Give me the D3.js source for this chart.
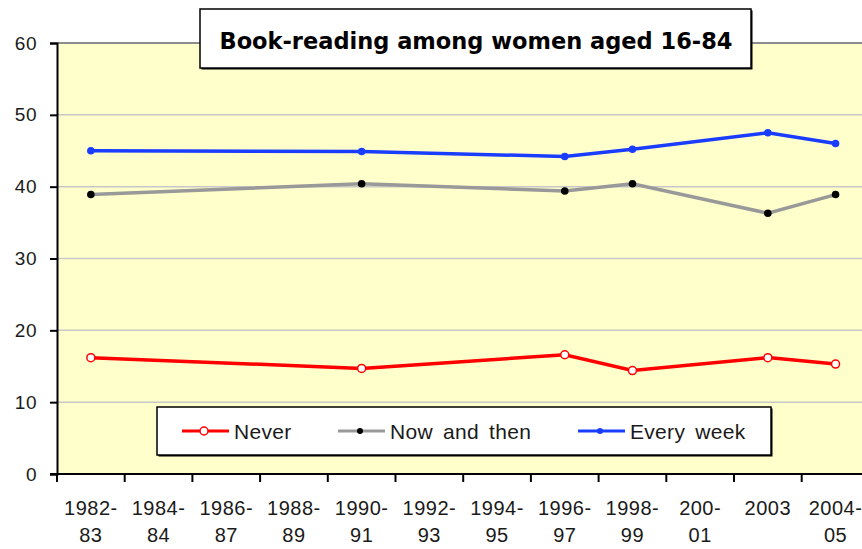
<!DOCTYPE html>
<html>
<head>
<meta charset="utf-8">
<script src="https://cdn.jsdelivr.net/npm/d3@7"></script>
<style>
  html, body { margin: 0; padding: 0; background: #fff; }
  svg { display: block; }
</style>
</head>
<body>
<svg id="chart" width="862" height="549"></svg>
<script>
'use strict';

// data
const categories = [
  ['1982-', '83'], ['1984-', '84'], ['1986-', '87'], ['1988-', '89'],
  ['1990-', '91'], ['1992-', '93'], ['1994-', '95'], ['1996-', '97'],
  ['1998-', '99'], ['200-', '01'], ['2003', ''], ['2004-', '05']
];
const never = [16.2, null, null, null, 14.7, null, null, 16.6, 14.4, null, 16.2, 15.3];
const nowAndThen = [38.9, null, null, null, 40.4, null, null, 39.4, 40.4, null, 36.3, 38.9];
const everyWeek = [45.0, null, null, null, 44.9, null, null, 44.2, 45.2, null, 47.5, 46.0];
const yTicks = [0, 10, 20, 30, 40, 50, 60];
const title = 'Book-reading among women aged 16-84';

const series = [
  { key: 'Never', values: never, line: '#ff0000', marker: 'open' },
  { key: 'Now and then', values: nowAndThen, line: '#999999', marker: '#000000' },
  { key: 'Every week', values: everyWeek, line: '#1a3cff', marker: '#1a3cff' }
];

const svg = d3.select('#chart');
const margin = { top: 43, left: 57, bottom: 75 };
const band = 67.7;
const width = band * categories.length;
const height = 549 - margin.top - margin.bottom;
const font = '"Liberation Sans", Arial, sans-serif';

const x = d3.scaleBand()
  .domain(d3.range(categories.length))
  .range([0, width]);

const y = d3.scaleLinear()
  .domain([0, 60])
  .range([height, 0]);

const g = svg.append('g')
  .attr('transform', 'translate(' + margin.left + ',' + margin.top + ')');

// plot area
g.append('rect')
  .attr('width', width)
  .attr('height', height)
  .attr('fill', '#ffffcc');

// gridlines
g.append('g')
  .selectAll('line')
  .data(yTicks.filter((d) => d > 0))
  .enter()
  .append('line')
  .attr('x1', 0)
  .attr('x2', width)
  .attr('y1', (d) => y(d))
  .attr('y2', (d) => y(d))
  .attr('stroke', (d) => (d === 60 ? '#8c8c8c' : '#c8c8c8'))
  .attr('stroke-width', (d) => (d === 60 ? 2 : 1.5));

// y axis
g.append('g')
  .call(d3.axisLeft(y).tickValues(yTicks).tickSize(7).tickPadding(13))
  .call((a) => {
    a.select('.domain').attr('stroke', '#000').attr('stroke-width', 2);
    a.selectAll('line').attr('stroke', '#000').attr('stroke-width', 2);
    a.selectAll('text')
      .attr('fill', '#1a1a1a')
      .style('font-family', font)
      .style('font-size', '19px')
      .style('letter-spacing', '0.5px');
  });

// x axis
const xAxis = g.append('g')
  .attr('transform', 'translate(0,' + height + ')');

xAxis.append('line')
  .attr('x1', -7)
  .attr('x2', width)
  .attr('stroke', '#000')
  .attr('stroke-width', 2);

xAxis.selectAll('.tick')
  .data(d3.range(categories.length + 1))
  .enter()
  .append('line')
  .attr('class', 'tick')
  .attr('x1', (d) => d * x.step())
  .attr('x2', (d) => d * x.step())
  .attr('y1', 0)
  .attr('y2', 8)
  .attr('stroke', '#000')
  .attr('stroke-width', 2);

const xLabels = xAxis.selectAll('.xlabel')
  .data(categories)
  .enter()
  .append('text')
  .attr('class', 'xlabel')
  .attr('text-anchor', 'middle')
  .attr('fill', '#1a1a1a')
  .style('font-family', font)
  .style('font-size', '20px')
  .style('letter-spacing', '0.5px');

xLabels.append('tspan')
  .attr('x', (d, i) => x(i) + x.bandwidth() / 2)
  .attr('y', 41)
  .text((d) => d[0]);

xLabels.append('tspan')
  .attr('x', (d, i) => x(i) + x.bandwidth() / 2)
  .attr('y', 68)
  .text((d) => d[1]);

// lines, skipping empty years
const line = d3.line()
  .x((d) => x(d.i) + x.bandwidth() / 2)
  .y((d) => y(d.v));

series.forEach(function(s) {
  const pts = s.values
    .map((v, i) => ({ i: i, v: v }))
    .filter((d) => d.v !== null);

  g.append('path')
    .attr('d', line(pts))
    .attr('fill', 'none')
    .attr('stroke', s.line)
    .attr('stroke-width', 3.5);

  g.append('g')
    .selectAll('circle')
    .data(pts)
    .enter()
    .append('circle')
    .attr('cx', (d) => x(d.i) + x.bandwidth() / 2)
    .attr('cy', (d) => y(d.v))
    .attr('r', s.marker === 'open' ? 4 : 3.8)
    .attr('fill', s.marker === 'open' ? '#fff' : s.marker)
    .attr('stroke', s.marker === 'open' ? s.line : 'none')
    .attr('stroke-width', 1.5);
});

// legend
const legend = svg.append('g')
  .attr('transform', 'translate(157,407)');

legend.append('rect')
  .attr('x', 1.5)
  .attr('y', 1.5)
  .attr('width', 614)
  .attr('height', 48)
  .attr('fill', '#000');

legend.append('rect')
  .attr('width', 614)
  .attr('height', 48)
  .attr('fill', '#fff')
  .attr('stroke', '#000')
  .attr('stroke-width', 1.5);

const legendX = [25, 181, 421];

const item = legend.selectAll('.item')
  .data(series)
  .enter()
  .append('g')
  .attr('class', 'item')
  .attr('transform', (d, i) => 'translate(' + legendX[i] + ',24)');

item.append('line')
  .attr('x1', 0)
  .attr('x2', 47)
  .attr('stroke', (d) => d.line)
  .attr('stroke-width', 3);

item.append('circle')
  .attr('cx', 22)
  .attr('r', (d) => (d.marker === 'open' ? 4 : 3))
  .attr('fill', (d) => (d.marker === 'open' ? '#fff' : d.marker))
  .attr('stroke', (d) => (d.marker === 'open' ? d.line : 'none'))
  .attr('stroke-width', 1.5);

item.append('text')
  .attr('x', 52)
  .attr('y', 8)
  .attr('fill', '#1a1a1a')
  .style('font-family', font)
  .style('font-size', '21px')
  .style('letter-spacing', '0.3px')
  .style('word-spacing', '4px')
  .text((d) => d.key);

// title box
const tBox = svg.append('g')
  .attr('transform', 'translate(200,9)');

tBox.append('rect')
  .attr('x', 1.5)
  .attr('y', 1.5)
  .attr('width', 551)
  .attr('height', 59)
  .attr('fill', '#000');

tBox.append('rect')
  .attr('width', 551)
  .attr('height', 59)
  .attr('fill', '#fff')
  .attr('stroke', '#000')
  .attr('stroke-width', 1.5);

tBox.append('text')
  .attr('x', 276)
  .attr('y', 40)
  .attr('text-anchor', 'middle')
  .attr('fill', '#000')
  .style('font-family', '"DejaVu Sans", Verdana, sans-serif')
  .style('font-weight', 'bold')
  .style('font-size', '22.5px')
  .text(title);
</script>
</body>
</html>
